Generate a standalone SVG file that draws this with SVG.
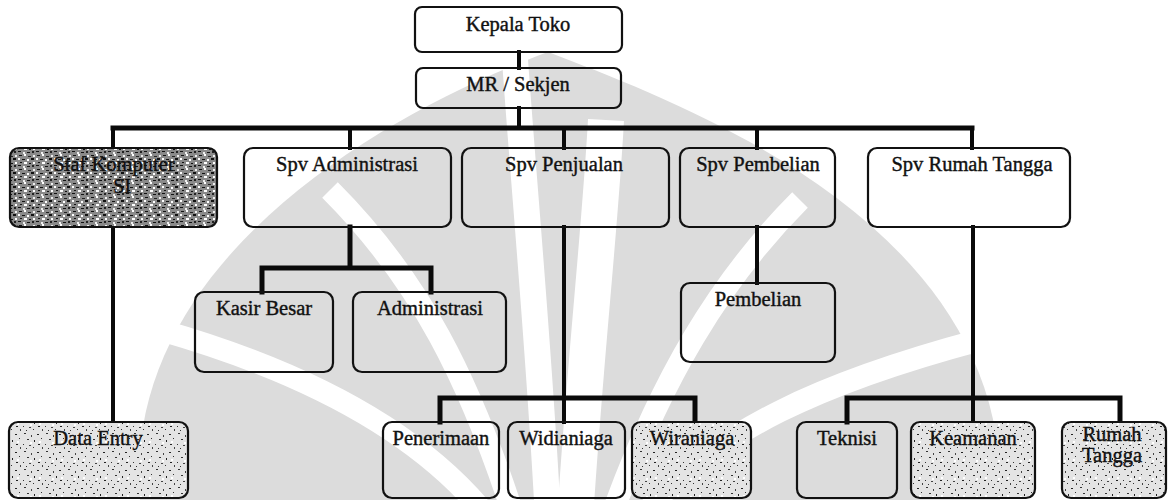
<svg xmlns="http://www.w3.org/2000/svg" width="1170" height="500" viewBox="0 0 1170 500">
<defs>
<style>
.box{fill:none;stroke:#111;stroke-width:2.2}
.t{font-family:"Liberation Serif","Times New Roman",serif;font-size:20.5px;fill:#111;stroke:#111;stroke-width:0.4;text-anchor:middle}
.c{fill:none;stroke:#0a0a0a;stroke-linecap:square}
.wm{fill:#dcdcdc}
.wb{fill:none;stroke:#fff}
</style>
<pattern id="dense" width="18" height="14" patternUnits="userSpaceOnUse">
<rect width="18" height="14" fill="#8a8a8a"/>
<rect x="1" y="1" width="3" height="1" fill="#111"/><rect x="6" y="0" width="2" height="2" fill="#fff"/>
<rect x="10" y="2" width="3" height="1" fill="#222"/><rect x="15" y="1" width="2" height="2" fill="#eee"/>
<rect x="0" y="4" width="2" height="2" fill="#fff"/><rect x="4" y="5" width="3" height="1" fill="#111"/>
<rect x="9" y="5" width="2" height="2" fill="#fff"/><rect x="13" y="4" width="3" height="2" fill="#111"/>
<rect x="2" y="8" width="2" height="1" fill="#111"/><rect x="6" y="8" width="3" height="2" fill="#fff"/>
<rect x="11" y="9" width="2" height="1" fill="#111"/><rect x="15" y="8" width="2" height="2" fill="#fff"/>
<rect x="0" y="11" width="3" height="1" fill="#111"/><rect x="5" y="12" width="2" height="2" fill="#eee"/>
<rect x="9" y="12" width="3" height="1" fill="#111"/><rect x="14" y="11" width="2" height="2" fill="#222"/>
</pattern>
<pattern id="light" width="22" height="18" patternUnits="userSpaceOnUse">
<rect width="22" height="18" fill="#e4e4e4"/>
<rect x="2" y="1" width="2" height="1" fill="#333"/><rect x="9" y="3" width="1" height="2" fill="#444"/>
<rect x="15" y="2" width="2" height="1" fill="#222"/><rect x="19" y="6" width="1" height="1" fill="#333"/>
<rect x="5" y="7" width="2" height="1" fill="#333"/><rect x="12" y="8" width="1" height="2" fill="#222"/>
<rect x="1" y="12" width="1" height="1" fill="#333"/><rect x="7" y="13" width="2" height="1" fill="#444"/>
<rect x="16" y="12" width="2" height="1" fill="#222"/><rect x="11" y="15" width="1" height="1" fill="#333"/>
<rect x="20" y="15" width="1" height="2" fill="#444"/><rect x="4" y="16" width="1" height="1" fill="#333"/>
<rect x="8" y="10" width="2" height="2" fill="#fff"/><rect x="17" y="9" width="2" height="2" fill="#fff"/>
</pattern>
</defs>
<rect width="1170" height="500" fill="#fff"/>
<g id="watermark">
<path class="wm" d="M548 52 C700 110 1010 230 1000 500 L140 500 C120 260 390 110 548 52 Z"/>
<path class="wb" stroke-width="26" d="M548 520 C540 360 525 200 515 60"/>
<path class="wb" stroke-width="36" d="M575 520 C585 360 600 230 606 120"/>
<path class="wb" stroke-width="22" d="M515 520 C470 380 420 280 330 190"/>
<path class="wb" stroke-width="22" d="M610 520 C660 380 720 280 800 200"/>
<path class="wb" stroke-width="22" d="M490 520 C420 430 300 370 160 330"/>
<path class="wb" stroke-width="22" d="M640 520 C710 430 830 380 980 340"/>
</g>
<g id="connectors">
<path class="c" stroke-width="4" d="M519 52 V68 M519 108 V128"/>
<path class="c" stroke-width="5" d="M113 128 H972"/>
<path class="c" stroke-width="4" d="M113 128 V148 M350 128 V148 M564 128 V148 M757 128 V148 M972 128 V148"/>
<path class="c" stroke-width="4" d="M113 227 V422"/>
<path class="c" stroke-width="5" d="M350 227 V268 M262 292 V268 H431 V292"/>
<path class="c" stroke-width="4" d="M564 227 V422"/>
<path class="c" stroke-width="5" d="M440 422 V398 H695 V422"/>
<path class="c" stroke-width="4" d="M757 227 V283"/>
<path class="c" stroke-width="4" d="M973 227 V422"/>
<path class="c" stroke-width="5" d="M847 422 V398 H1120 V422"/>
</g>
<g id="kepala-toko"><rect class="box" x="415" y="7" width="207" height="45" rx="7"/><text class="t" x="518" y="31">Kepala Toko</text></g>
<g id="mr-sekjen"><rect class="box" x="416" y="68" width="205" height="40" rx="7"/><text class="t" x="518" y="91">MR / Sekjen</text></g>
<g id="staf-komputer"><rect class="box" x="10" y="148" width="207" height="79" rx="9" style="fill:url(#dense)"/><text class="t" x="114" y="171">Staf Komputer</text><text class="t" x="122" y="193">SI</text></g>
<g id="spv-administrasi"><rect class="box" x="244" y="148" width="207" height="79" rx="9"/><text class="t" x="347" y="171">Spv Administrasi</text></g>
<g id="spv-penjualan"><rect class="box" x="462" y="148" width="207" height="79" rx="9"/><text class="t" x="564" y="171">Spv Penjualan</text></g>
<g id="spv-pembelian"><rect class="box" x="680" y="148" width="155" height="79" rx="9"/><text class="t" x="758" y="171">Spv Pembelian</text></g>
<g id="spv-rumah-tangga"><rect class="box" x="868" y="148" width="202" height="79" rx="9"/><text class="t" x="972" y="171">Spv Rumah Tangga</text></g>
<g id="kasir-besar"><rect class="box" x="195" y="292" width="138" height="80" rx="9"/><text class="t" x="264" y="315">Kasir Besar</text></g>
<g id="administrasi"><rect class="box" x="353" y="292" width="153" height="80" rx="9"/><text class="t" x="430" y="315">Administrasi</text></g>
<g id="pembelian"><rect class="box" x="681" y="283" width="154" height="79" rx="9"/><text class="t" x="758" y="306">Pembelian</text></g>
<g id="data-entry"><rect class="box" x="9" y="422" width="179" height="76" rx="9" style="fill:url(#light)"/><text class="t" x="98" y="445">Data Entry</text></g>
<g id="penerimaan"><rect class="box" x="383" y="422" width="116" height="76" rx="9"/><text class="t" x="441" y="445">Penerimaan</text></g>
<g id="widianiaga"><rect class="box" x="508" y="422" width="117" height="76" rx="9"/><text class="t" x="566" y="445">Widianiaga</text></g>
<g id="wiraniaga"><rect class="box" x="632" y="422" width="119" height="76" rx="9" style="fill:url(#light)"/><text class="t" x="692" y="445">Wiraniaga</text></g>
<g id="teknisi"><rect class="box" x="797" y="422" width="100" height="76" rx="9"/><text class="t" x="847" y="445">Teknisi</text></g>
<g id="keamanan"><rect class="box" x="911" y="422" width="124" height="76" rx="9" style="fill:url(#light)"/><text class="t" x="973" y="445">Keamanan</text></g>
<g id="rumah-tangga"><rect class="box" x="1062" y="422" width="104" height="76" rx="9" style="fill:url(#light)"/><text class="t" x="1112" y="441">Rumah</text><text class="t" x="1112" y="462">Tangga</text></g>
</svg>
